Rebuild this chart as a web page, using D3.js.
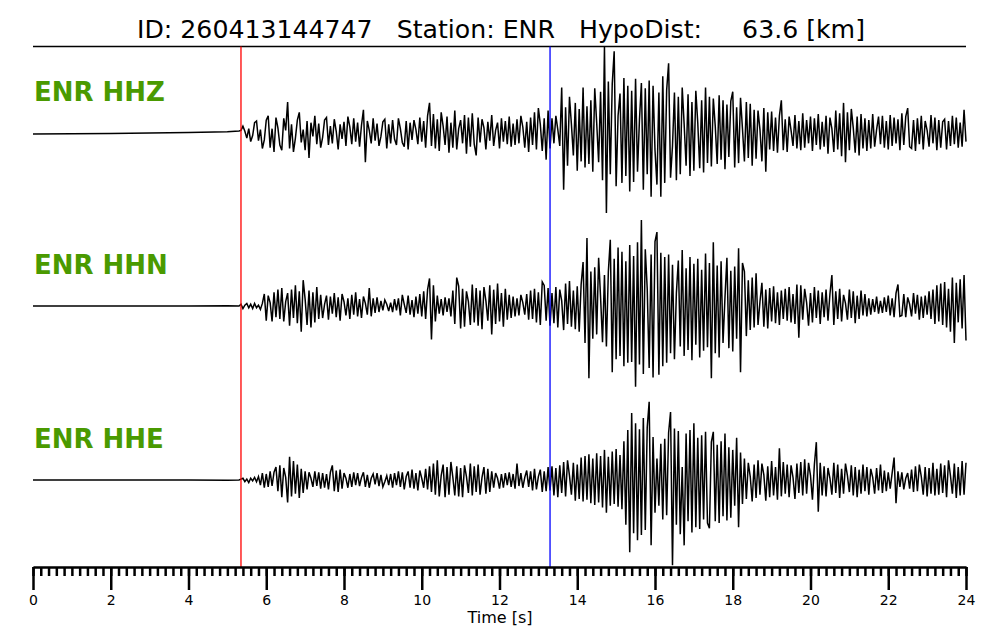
<!DOCTYPE html>
<html>
<head>
<meta charset="utf-8">
<script src="https://cdn.jsdelivr.net/npm/d3@7"></script>
<style>
  html, body { margin: 0; padding: 0; background: #fff; }
  svg text { font-family: "DejaVu Sans", sans-serif; white-space: pre; }
</style>
</head>
<body>
<script>
// ---------------- DATA ----------------
const titleText = "ID: 260413144747   Station: ENR   HypoDist:     63.6 [km]";
const channels = ["ENR HHZ", "ENR HHN", "ENR HHE"];
const pArrival = 5.35;   // s (red)
const sArrival = 13.30;  // s (blue)
const majorTicks = [0, 2, 4, 6, 8, 10, 12, 14, 16, 18, 20, 22, 24];
const sampleStart = 5.35; // s, first sample of the arrays below
const sampleStep = 0.05;  // s

// pre-event (quiet) part, read at a few times
const preTimes = [0, 1, 2, 3, 4, 5, 5.3];
const preZ = [-1.2, -1, -0.6, 0, 0.6, 1.4, 2.3];
const preN = [0, 0, 0, 0, 0, 0.3, 0];
const preE = [0, 0, 0, 0, 0, -0.3, 0];

// normalised amplitude (max ~100), one row per second
const hhz = [
  3, 8, 2, -6, 5, -10, -3, 12, 14, -9, 4, -18, -8, 15, 20, -17, 5, -22, 18, 6,
  -14, -20, 17, 3, 36, -18, 10, -22, -6, 15, 24, -11, 4, -20, 14, -29, 12, -4, 20, -13,
  11, -17, -5, 15, 18, -14, 8, -12, 16, 2, -19, 10, -7, 13, -15, 19, 7, -13, 17, -10,
  12, -16, 9, 27, -34, 14, 3, -12, 17, -9, 11, -15, -4, 13, 16, -18, 10, -12, 15, -7,
  -14, 17, 5, -11, -16, 14, -19, 12, -8, 15, 4, -13, 18, -10, 14, -17, 20, 35, -15, 22,
  -18, 16, -21, 24, 8, -14, 19, -23, 12, -17, 26, -19, 5, 15, -12, 21, -24, 18, -16, 23,
  -13, -26, 18, -11, 16, 6, -19, 13, -9, 21, -15, 3, 12, -18, 17, -10, 14, -13, 19, -16,
  11, -14, 16, -12, 20, 7, -17, 13, -22, 18, -14, 24, -19, 29, 10, -21, 17, -31, 26, -18,
  17, -12, 20, 4, -15, 53, -66, 30, -38, 42, 10, -26, 35, -44, 28, -33, 53, -40, 31, -36,
  38, -45, 52, 12, -34, 48, -55, 100, -93, 60, -48, 57, 95, -62, 20, 46, -58, 64, -50, 55,
  -68, 49, -57, 63, -45, 15, 58, -66, 52, -48, 61, -74, 55, -20, -60, 47, -74, 66, -58, 50,
  81, -52, -15, 47, -55, 42, -48, 53, 10, -38, 45, -50, 36, -44, 49, 12, -41, 38, -46, 53,
  -35, 42, -39, 40, 8, -36, 44, -31, 38, -42, 33, -28, 37, 48, -40, 30, -35, 41, 5, -33,
  36, -29, 34, -38, 27, -30, 26, 4, -33, 29, -45, 24, -19, 25, -21, 18, -23, 20, 38, -20,
  16, -22, 19, 3, -15, 21, -18, 14, -20, 23, -17, 15, -12, 19, -21, 17, -14, 22, -19, 13,
  -16, 20, -24, 18, 5, -22, 26, -19, 23, -27, 35, -34, 24, -20, 28, 6, -23, 19, -26, 22,
  -18, 17, -21, 15, -18, 22, -16, 4, 19, -13, 20, -17, 14, -19, 21, -15, 18, -12, 16, -20,
  23, -14, 19, 29, -16, -18, 15, -21, 17, -13, 20, -19, 14, 3, -16, 21, -12, 18, -20, 15,
  -17, 13, 16, -19, 14, -15, 20, -13, 18, -17, 12, -16, 27, -10
];
const hhn = [
  2, -3, 1, 3, -2, 2, -3, 3, -2, 1, -4, 3, 14, -17, 12, 4, -18, 16, -13, 19,
  -15, 21, -18, 5, 15, -23, 19, -14, 24, -20, 17, -30, 30, 8, -22, 18, -25, 16, -19, 22,
  -15, 13, -14, 2, 12, -16, 11, -9, 15, -13, 10, -17, 14, 5, -11, 9, -15, 13, -10, 16,
  -12, 8, -14, 11, 3, -10, 21, -12, 9, -8, 10, -7, 6, -5, 7, 2, -6, 4, -7, 8,
  -5, 9, -11, 13, 2, -8, 12, -10, 7, -13, 11, -9, 14, -12, 17, -15, 19, 32, -39, 24,
  -18, 12, -9, 8, -11, 10, -7, 9, -12, 18, -21, 33, 23, -26, 20, -24, 17, 5, -22, 25,
  -19, 21, -23, 18, -27, 22, 6, -17, 24, -33, 19, -21, 26, -18, 15, -24, 20, -16, 13, -14,
  11, -12, 9, -11, 13, 4, -10, 14, -16, 18, -15, 20, -19, 16, -22, 28, 24, -17, 21, -23,
  15, -20, 22, -25, 19, 6, -28, 26, -21, 29, -24, 18, -27, 23, -30, 25, 51, -43, 79, -84,
  40, -38, 45, -33, 56, 10, -42, 36, -47, 40, 77, -77, 55, -62, 68, -58, 63, -70, 52, -66,
  71, -65, 58, -94, 74, -68, 100, -79, 66, 20, -72, 60, -83, 75, 86, -80, 62, -70, 57, -66,
  60, -55, 48, -62, 15, 53, -47, 65, -58, 44, -51, 57, -63, 49, -45, 55, -60, 42, -52, 61,
  -48, 50, -84, 74, -55, 47, -60, 52, -43, 10, 56, -49, 41, -53, 46, -38, 67, -77, 50, 40,
  -35, 30, -28, 33, -25, 38, -22, 5, 27, -24, 19, -26, 21, -18, 23, -20, 16, -22, 18, -15,
  20, -17, 22, -19, 14, -21, 25, -37, 24, -16, 20, 4, -23, 15, -19, 22, -14, 18, -21, 16,
  -13, 19, -17, 14, 36, -22, 17, -15, 20, -18, 13, 3, -16, 19, -14, 17, -20, 12, -15, 18,
  -11, 14, -12, 9, -10, 8, -7, 11, -9, 6, -8, 10, -7, 12, -11, 9, -13, 15, 25, -12,
  -11, 14, -13, 10, 2, -12, 15, -9, 13, -16, 11, -14, 12, -10, 17, -15, 19, -21, 24, -18,
  26, -22, 28, -25, 20, -30, 33, -43, 27, -19, 31, -26, 36, -40
];
const hhe = [
  1, 2, -2, 1, -3, 2, -1, 3, -2, 4, -6, 8, -9, 7, -8, 10, -7, 9, 15, -13,
  17, -20, 14, 3, -26, 27, -19, 22, -16, 18, -21, 13, -15, 10, -11, 9, 2, -8, 10, -7,
  9, -10, 8, -9, 7, -11, 9, 17, -13, 11, -14, 12, -10, 8, 2, -9, 7, -8, 9, -6,
  8, -7, 3, 9, -8, 6, -9, 2, 7, -5, 8, -7, 6, -8, -2, 5, -6, 7, -9, 8,
  -6, 10, -8, 9, -11, 4, 10, -9, 12, -10, 8, -12, 11, 2, -9, 13, -11, 16, -14, 19,
  -17, 23, -19, 5, 18, -20, 15, -17, 21, 3, -18, 16, -19, 14, -20, 17, 4, -15, 19, -18,
  16, -14, 18, -17, 3, 15, -16, 13, -14, 10, -9, 8, 2, -10, 7, -9, 8, -6, 9, -8,
  7, -10, 19, -7, 8, -9, 3, 11, -8, 10, -12, 13, -11, 4, 12, -14, 10, -13, 15, -12,
  16, -18, 14, -20, 17, -15, 21, -19, 23, 5, -17, 20, -24, 18, -22, 26, -25, 28, -23, 30,
  -27, 25, -29, 31, -26, 28, -32, 35, -38, 27, -30, 33, -28, 36, -31, 29, -34, 45, -52, 58,
  -84, 78, -62, 66, -70, 59, -64, 72, -58, 61, 91, -76, 50, -38, 25, -30, 42, -46, 48, -41,
  55, 79, -99, 60, -52, 57, -63, 15, -76, 54, -48, 58, -61, 66, -55, 49, -57, 52, -46, 56,
  -50, -56, 44, 56, -48, 41, -50, 45, -42, 54, -47, 38, -44, 35, -30, 49, -55, 32, -28, 25,
  -22, 20, 4, -25, 18, -21, 23, -17, 19, 6, -24, 16, -20, 22, -18, 15, -23, 37, -19, 21,
  -16, 18, -20, 17, 3, -22, 19, -15, 21, -18, 24, -16, 20, 5, -23, 18, 44, -37, 20, -18,
  16, -19, 14, 2, -17, 20, -15, 18, -21, 13, -16, 19, 5, -14, 17, -18, 15, -20, 12, -16,
  18, -13, 15, -17, 13, 3, -16, 14, -12, 18, -15, 11, -13, 9, -10, 8, 26, -27, 10, -8,
  9, -11, 2, 8, -10, 12, -14, 16, -13, 18, 4, -17, 15, -19, 14, -16, 20, -18, 13, -17,
  19, -15, 17, -20, 23, 5, -16, 19, -21, 15, -18, 22, -17, 20
];

// ---------------- DRAW ----------------
const W = 1000, H = 640;
const svg = d3.select("body").append("svg").attr("width", W).attr("height", H);
const x = d3.scaleLinear().domain([0, 24]).range([33, 966]);
const topY = 46.5, axisY = 567;

svg.append("text").attr("x", 501).attr("y", 38).attr("text-anchor", "middle")
  .attr("font-size", 25.2).attr("fill", "#000").text(titleText);
svg.append("line").attr("x1", x(0)).attr("x2", x(24)).attr("y1", topY).attr("y2", topY)
  .attr("stroke", "#000").attr("stroke-width", 1.5);

const traces = [
  { name: channels[0], pre: preZ, data: hhz, base: 133 },
  { name: channels[1], pre: preN, data: hhn, base: 306 },
  { name: channels[2], pre: preE, data: hhe, base: 480 }
];

traces.forEach(tr => {
  const y = d3.scaleLinear().domain([-100, 100]).range([tr.base + 86, tr.base - 86]);
  const pts = preTimes.map((t, i) => [t, tr.pre[i]])
    .concat(tr.data.map((v, i) => [sampleStart + i * sampleStep, v]));
  svg.append("path").datum(pts)
    .attr("fill", "none").attr("stroke", "#000").attr("stroke-width", 1.5)
    .attr("stroke-linejoin", "miter")
    .attr("d", d3.line().x(d => x(d[0])).y(d => y(d[1])));
  svg.append("text").attr("x", 34).attr("y", tr.base - 32)
    .attr("font-size", 26).attr("font-weight", "bold").attr("fill", "#4a9a00")
    .text(tr.name);
});

// phase markers
[[pArrival, "#ff0000"], [sArrival, "#0000ff"]].forEach(([t, c]) => {
  svg.append("line").attr("x1", x(t)).attr("x2", x(t)).attr("y1", topY).attr("y2", axisY)
    .attr("stroke", c).attr("stroke-width", 1.3);
});

// axis
const minorTicks = d3.range(0, 121).map(i => i * 0.2);
const gMinor = svg.append("g").attr("transform", `translate(0,${axisY})`)
  .call(d3.axisBottom(x).tickValues(minorTicks).tickSize(9).tickFormat("").tickSizeOuter(0));
const gMajor = svg.append("g").attr("transform", `translate(0,${axisY})`)
  .call(d3.axisBottom(x).tickValues(majorTicks).tickSize(23).tickPadding(5)
    .tickFormat(d3.format("d")).tickSizeOuter(0));
gMinor.selectAll(".tick line").attr("stroke", "#000").attr("stroke-width", 2.5);
gMajor.selectAll(".tick line").attr("stroke", "#000").attr("stroke-width", 2.5);
[gMinor, gMajor].forEach(g => g.select(".domain").attr("stroke", "#000").attr("stroke-width", 2));
gMajor.selectAll("text").attr("font-size", 14).attr("font-family", "DejaVu Sans").attr("fill", "#000");

svg.append("text").attr("x", 500).attr("y", 623).attr("text-anchor", "middle")
  .attr("font-size", 16).attr("fill", "#000").text("Time [s]");
</script>
</body>
</html>
